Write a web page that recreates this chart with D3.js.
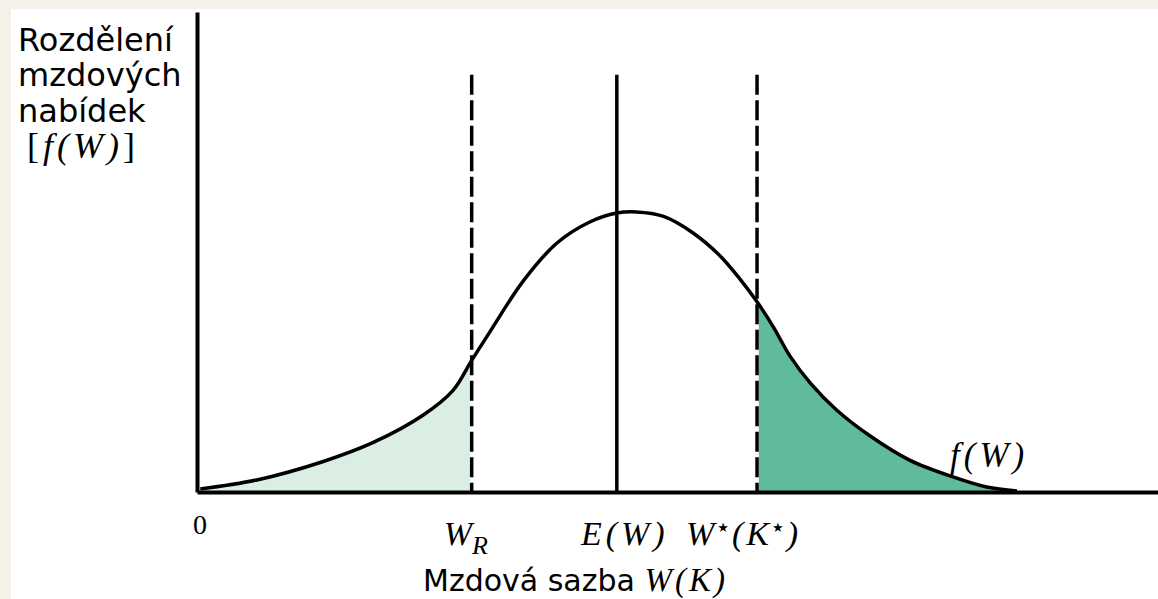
<!DOCTYPE html>
<html>
<head>
<meta charset="utf-8">
<script src="https://cdn.jsdelivr.net/npm/d3@7"></script>
<style>
  html, body { margin: 0; padding: 0; background: #f4f1e9; }
  svg { display: block; }
  .sans { font-family: "DejaVu Sans", Verdana, sans-serif; }
  .serif { font-family: "Liberation Serif", "Times New Roman", serif; }
</style>
</head>
<body>
<div id="chart"></div>
<script>
// wage offer density f(W) (arbitrary units)
var wage = [0.4, 7.3, 15.4, 21.5, 27.6, 31.2, 33.5, 35.7, 39.8, 43.9, 47.9, 51.2, 53.6,
            56.9, 60.5, 63.8, 66.2, 68.3, 70.3, 72.3, 74.8, 78.0, 82.1, 86.9, 92.2, 96.3, 100];
var density = [0.011, 0.043, 0.109, 0.177, 0.275, 0.362, 0.470, 0.571, 0.754, 0.889, 0.964, 0.996, 1.0,
               0.984, 0.925, 0.843, 0.761, 0.679, 0.589, 0.486, 0.389, 0.293, 0.200, 0.114, 0.054, 0.018, 0.004];

// marked wages on the x axis
var wR = 33.5, eW = 51.2, wStar = 68.3;
var lineTop = 1.49;

var width = 1158, height = 599;

var svg = d3.select("#chart")
  .append("svg")
  .attr("width", width)
  .attr("height", height);

// white panel on the cream page
svg.append("rect")
  .attr("x", 11)
  .attr("y", 9)
  .attr("width", width - 11)
  .attr("height", height - 9)
  .attr("fill", "#ffffff");

var x = d3.scaleLinear()
  .domain([0, 117.2])
  .range([197, 1158]);

var y = d3.scaleLinear()
  .domain([0, 1.714])
  .range([492, 12]);

var data = wage.map(function (w, i) { return { w: w, f: density[i] }; });

var line = d3.line()
  .x(function (d) { return x(d.w); })
  .y(function (d) { return y(d.f); })
  .curve(d3.curveCatmullRom.alpha(0.5));

var area = d3.area()
  .x(function (d) { return x(d.w); })
  .y0(y(0))
  .y1(function (d) { return y(d.f); })
  .curve(d3.curveCatmullRom.alpha(0.5));

// clip regions for the two shaded tails
var defs = svg.append("defs");
defs.append("clipPath").attr("id", "clipLeft")
  .append("rect")
  .attr("x", x(0)).attr("y", 0)
  .attr("width", x(wR) - x(0)).attr("height", y(0));
defs.append("clipPath").attr("id", "clipRight")
  .append("rect")
  .attr("x", x(wStar)).attr("y", 0)
  .attr("width", width - x(wStar)).attr("height", y(0));

svg.append("path")
  .datum(data)
  .attr("d", area)
  .attr("fill", "#daeee4")
  .attr("clip-path", "url(#clipLeft)");

svg.append("path")
  .datum(data)
  .attr("d", area)
  .attr("fill", "#5fbb9c")
  .attr("clip-path", "url(#clipRight)");

// vertical markers
[wR, wStar].forEach(function (v) {
  svg.append("line")
    .attr("x1", x(v)).attr("x2", x(v))
    .attr("y1", y(lineTop)).attr("y2", y(0))
    .attr("stroke", "#ffffff")
    .attr("stroke-width", 3.5);
  svg.append("line")
    .attr("x1", x(v)).attr("x2", x(v))
    .attr("y1", y(lineTop)).attr("y2", y(0))
    .attr("stroke", "#000")
    .attr("stroke-width", 3.5)
    .attr("stroke-dasharray", "20,5.5");
});

svg.append("line")
  .attr("x1", x(eW)).attr("x2", x(eW))
  .attr("y1", y(lineTop)).attr("y2", y(0))
  .attr("stroke", "#000")
  .attr("stroke-width", 3.5);

// the density curve
svg.append("path")
  .datum(data)
  .attr("d", line)
  .attr("fill", "none")
  .attr("stroke", "#000")
  .attr("stroke-width", 3.5);

// axes without ticks
svg.append("g")
  .attr("transform", "translate(0," + y(0) + ")")
  .call(d3.axisBottom(x).tickValues([]).tickSizeOuter(0));
svg.append("g")
  .attr("transform", "translate(" + x(0) + ",0)")
  .call(d3.axisLeft(y).tickValues([]).tickSizeOuter(0));
svg.selectAll(".domain")
  .attr("stroke", "#000")
  .attr("stroke-width", 4);

// y axis title
var yTitle = ["Rozdělení", "mzdových", "nabídek"];
svg.selectAll(".ytitle")
  .data(yTitle)
  .enter()
  .append("text")
  .attr("class", "sans ytitle")
  .attr("x", 18)
  .attr("y", function (d, i) { return 51 + i * 35.3; })
  .style("font-size", "32px")
  .text(function (d) { return d; });

var fw = svg.append("text")
  .attr("class", "serif")
  .attr("x", 27)
  .attr("y", 158)
  .style("font-size", "36px")
  .style("letter-spacing", "4px");
fw.append("tspan").text("[");
fw.append("tspan").style("font-style", "italic").text("f(W)");
fw.append("tspan").text("]");

// labels under the x axis
svg.append("text")
  .attr("class", "serif")
  .attr("x", x(0) + 3)
  .attr("y", 534)
  .attr("text-anchor", "middle")
  .style("font-size", "28px")
  .text("0");

var lr = svg.append("text")
  .attr("class", "serif")
  .attr("x", x(wR) - 28)
  .attr("y", 545)
  .style("font-size", "34px")
  .style("font-style", "italic");
lr.append("tspan").text("W");
lr.append("tspan").attr("dy", 9).style("font-size", "26px").text("R");

svg.append("text")
  .attr("class", "serif")
  .attr("x", x(eW) + 8)
  .attr("y", 545)
  .attr("text-anchor", "middle")
  .style("font-size", "34px")
  .style("font-style", "italic")
  .style("letter-spacing", "4px")
  .text("E(W)");

var ls = svg.append("text")
  .attr("class", "serif")
  .attr("x", x(wStar) - 71)
  .attr("y", 545)
  .style("font-size", "34px")
  .style("font-style", "italic")
  .style("letter-spacing", "3px");
ls.append("tspan").text("W");
ls.append("tspan").attr("class", "sans").attr("dy", -13).style("font-size", "13px").style("font-style", "normal").text("★");
ls.append("tspan").attr("dy", 13).text("(K");
ls.append("tspan").attr("class", "sans").attr("dy", -13).style("font-size", "13px").style("font-style", "normal").text("★");
ls.append("tspan").attr("dy", 13).text(")");

var xt = svg.append("text")
  .attr("x", 423)
  .attr("y", 591)
  .style("font-size", "30px");
xt.append("tspan").attr("class", "sans").text("Mzdová sazba ");
xt.append("tspan").attr("class", "serif")
  .style("font-style", "italic")
  .style("font-size", "33px")
  .style("letter-spacing", "3px")
  .text("W(K)");

// curve label
svg.append("text")
  .attr("class", "serif")
  .attr("x", 950)
  .attr("y", 467)
  .style("font-size", "35px")
  .style("font-style", "italic")
  .style("letter-spacing", "4px")
  .text("f(W)");
</script>
</body>
</html>
